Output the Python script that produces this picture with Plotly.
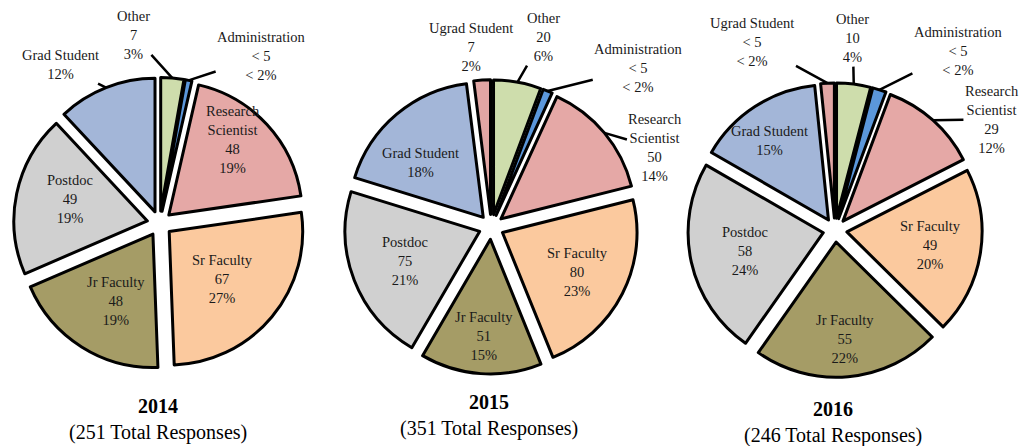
import math
import plotly.graph_objects as go

# browser page has an 8px body margin: work in reference pixels, shift by OFF
OFF = 8
W, H = 1027 - OFF, 446 - OFF

# ---------------- data ----------------
years = ["2014", "2015", "2016"]
totals = [251, 351, 246]

labels_2014 = ["Other", "Administration", "Research Scientist", "Sr Faculty",
               "Jr Faculty", "Postdoc", "Grad Student"]
values_2014 = [7, 2, 48, 67, 48, 49, 30]
count_text_2014 = ["7", "< 5", "48", "67", "48", "49", ""]
pct_text_2014 = ["3%", "< 2%", "19%", "27%", "19%", "19%", "12%"]

labels_2015 = ["Other", "Administration", "Research Scientist", "Sr Faculty",
               "Jr Faculty", "Postdoc", "Grad Student", "Ugrad Student"]
values_2015 = [20, 4, 50, 80, 51, 75, 64, 7]
count_text_2015 = ["20", "< 5", "50", "80", "51", "75", "", "7"]
pct_text_2015 = ["6%", "< 2%", "14%", "23%", "15%", "21%", "18%", "2%"]

labels_2016 = ["Other", "Administration", "Research Scientist", "Sr Faculty",
               "Jr Faculty", "Postdoc", "Grad Student", "Ugrad Student"]
values_2016 = [10, 4, 29, 49, 55, 58, 37, 4]
count_text_2016 = ["10", "< 5", "29", "49", "55", "58", "", "< 5"]
pct_text_2016 = ["4%", "< 2%", "12%", "20%", "22%", "24%", "15%", "< 2%"]

# ---------------- style ----------------
colors = {
    "Other": "#CEDDAC",
    "Administration": "#5B97DB",
    "Research Scientist": "#E5A8A6",
    "Sr Faculty": "#FBC99E",
    "Jr Faculty": "#A59C66",
    "Postdoc": "#D0D0D0",
    "Grad Student": "#A3B6D8",
    "Ugrad Student": "#E2A6A4",
}
display_names = {"Research Scientist": "Research<br>Scientist"}
FONT = "Liberation Serif, Times New Roman, serif"

# pie geometry in reference pixels: center x, center y, radius, pull offset
geom = [
    (159.6, 223.5, 133.5, 12.5),
    (491.3, 226.9, 134.6, 12.5),
    (835.0, 230.1, 135.2, 12.0),
]
# label placement relative to slice outer mid point:
# ("in", dx, dy) plain text, ("out", ax, ay) with leader line
placement = [
    {"Other": ("out", -39, -43), "Administration": ("out", 73, -24),
     "Research Scientist": ("in", -34, 15), "Sr Faculty": ("in", -49, -38),
     "Jr Faculty": ("in", 34, -46), "Postdoc": ("in", 53, 5),
     "Grad Student": ("out", -46, -23)},
    {"Other": ("out", 26, -45), "Administration": ("out", 91, -23),
     "Research Scientist": ("out", 51, 15), "Sr Faculty": ("in", -45, -22),
     "Jr Faculty": ("in", 3, -38), "Postdoc": ("in", 51, -19),
     "Grad Student": ("in", 24, 48), "Ugrad Student": ("in", -11, -33)},
    {"Other": ("out", -1, -46), "Administration": ("out", 79, -39),
     "Research Scientist": ("out", 59, -1), "Sr Faculty": ("in", -50, -8),
     "Jr Faculty": ("in", -3, -38), "Postdoc": ("in", 54, -11),
     "Grad Student": ("in", 15, 34), "Ugrad Student": ("out", -75, -41)},
]
title_y = [419.5, 415.5, 422.5]


def px_x(X):
    return (X - OFF) / W


def px_y(Y):
    return 1 - (Y - OFF) / H


all_labels = [labels_2014, labels_2015, labels_2016]
all_values = [values_2014, values_2015, values_2016]
all_counts = [count_text_2014, count_text_2015, count_text_2016]
all_pcts = [pct_text_2014, pct_text_2015, pct_text_2016]

fig = go.Figure()
annotations = []

for k in range(3):
    labels, values = all_labels[k], all_values[k]
    cx, cy, r, d = geom[k]
    pull = d / r
    half = r * (1 + pull)
    fig.add_trace(go.Pie(
        labels=labels, values=values, sort=False, direction="clockwise",
        rotation=0, pull=[pull] * len(values),
        marker=dict(colors=[colors[l] for l in labels],
                    line=dict(color="black", width=3)),
        textinfo="none", hoverinfo="label+value", showlegend=False,
        domain=dict(x=[px_x(cx - half), px_x(cx + half)],
                    y=[px_y(cy + half), px_y(cy - half)]),
    ))
    total = sum(values)
    cum = 0
    for i, lab in enumerate(labels):
        mid = (cum + values[i] / 2) / total * 2 * math.pi
        cum += values[i]
        px = cx + (r + d) * math.sin(mid)
        py = cy - (r + d) * math.cos(mid)
        parts = [display_names.get(lab, lab)]
        if all_counts[k][i]:
            parts.append(all_counts[k][i])
        parts.append(all_pcts[k][i])
        text = "<br>".join(parts)
        pl = placement[k][lab]
        base = dict(x=px_x(px), y=px_y(py), xref="paper", yref="paper",
                    xanchor="center", yanchor="middle",
                    text=text, font=dict(family=FONT, size=14.5, color="#1a1a1a"),
                    align="center")
        if pl[0] == "in":
            base.update(showarrow=False, xshift=pl[1], yshift=-pl[2])
        else:
            base.update(showarrow=True, ax=pl[1], ay=pl[2], arrowhead=0,
                        arrowwidth=2.5, arrowcolor="black", standoff=0)
        annotations.append(base)
    annotations.append(dict(
        x=px_x(cx - 2), y=px_y(title_y[k]), xref="paper", yref="paper",
        xanchor="center", yanchor="middle",
        showarrow=False, align="center",
        text=f"<b>{years[k]}</b><br>({totals[k]} Total Responses)",
        font=dict(family=FONT, size=20, color="black")))

fig.update_layout(
    width=W, height=H, margin=dict(l=0, r=0, t=0, b=0),
    paper_bgcolor="white", plot_bgcolor="white",
    annotations=annotations,
)
fig.write_html("out.html")
